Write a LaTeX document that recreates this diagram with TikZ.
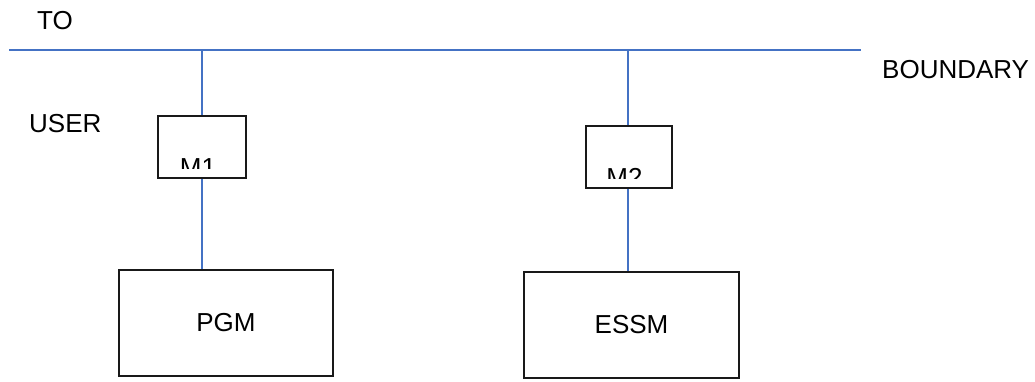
\documentclass[tikz,border=0pt]{standalone}
\usepackage{fontspec}
\setmainfont{Liberation Sans}
\definecolor{wireblue}{HTML}{4472C4}
\begin{document}
\begin{tikzpicture}[x=1pt,y=-1pt,
  box/.style={draw=black!90, line width=1.5pt, rectangle, inner sep=0pt, font=\fontsize{26}{31}\selectfont},
  wire/.style={draw=wireblue, line width=1.8pt},
  lbl/.style={font=\fontsize{26}{31}\selectfont, inner sep=0pt}]
\useasboundingbox (0,0) rectangle (1035,381);
% boundary line
\coordinate (busL) at (9,50);
\coordinate (busR) at (861,50);
\draw[wire] (busL) -- (busR);
% labels
\node[lbl, anchor=base west] (to) at (37,29) {TO};
\node[lbl, anchor=base west] (user) at (29,132) {USER};
\node[lbl, anchor=base west] (bnd) at (882,78) {BOUNDARY};
% boxes
\node[box, minimum width=88pt, minimum height=62pt] (m1) at (202,147) {};
\node[box, minimum width=86pt, minimum height=62pt] (m2) at (629,157) {};
\node[box, minimum width=214pt, minimum height=106pt] (pgm) at (226,323) {PGM};
\node[box, minimum width=215pt, minimum height=106pt] (essm) at (631.5,325) {ESSM};
% clipped labels in M boxes
\begin{scope}
\clip ([shift={(0.75pt,0pt)}]m1.west |- 0,168) rectangle ([shift={(-0.75pt,0.75pt)}]m1.north east);
\node[lbl, anchor=base] (m1t) at (198,176.8) {M1};
\end{scope}
\begin{scope}
\clip ([shift={(0.75pt,0pt)}]m2.west |- 0,178) rectangle ([shift={(-0.75pt,0.75pt)}]m2.north east);
\node[lbl, anchor=base] (m2t) at (624.5,186.8) {M2};
\end{scope}
% connectors
\coordinate (j1) at (m1.north |- busL);
\coordinate (j2) at (628,50);
\draw[wire] (j1) -- (m1.north);
\draw[wire] (m1.south) -- (m1.south |- pgm.north);
\draw[wire] (j2) -- (j2 |- m2.north);
\draw[wire] (j2 |- m2.south) -- (j2 |- essm.north);
\end{tikzpicture}
\end{document}
